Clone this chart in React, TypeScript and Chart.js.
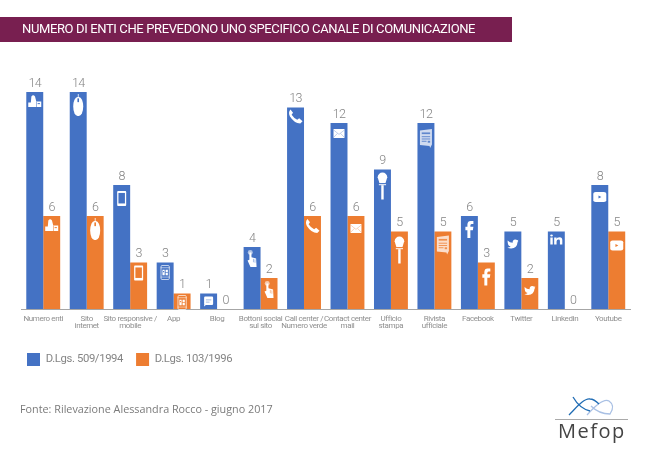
import React, { useEffect, useRef } from "react";
import { Chart, registerables } from "chart.js";

Chart.register(...registerables);

const titleText = "NUMERO DI ENTI CHE PREVEDONO UNO SPECIFICO CANALE DI COMUNICAZIONE";
const sourceText = "Fonte: Rilevazione Alessandra Rocco - giugno 2017";
const logoText = "Mefop";

const categories: (string | string[])[] = [
  "Numero enti",
  ["Sito", "internet"],
  ["Sito responsive /", "mobile"],
  "App",
  "Blog",
  ["Bottoni social", "sul sito"],
  ["Call center /", "Numero verde"],
  ["Contact center", "mail"],
  ["Ufficio", "stampa"],
  ["Rivista", "ufficiale"],
  "Facebook",
  "Twitter",
  "Linkedin",
  "Youtube",
];
const series1994 = [14, 14, 8, 3, 1, 4, 13, 12, 9, 12, 6, 5, 5, 8];
const series1996 = [6, 6, 3, 1, 0, 2, 6, 6, 5, 5, 3, 2, 0, 5];
const seriesNames = ["D.Lgs. 509/1994", "D.Lgs. 103/1996"];

const BLUE = "#4472C4";
const ORANGE = "#ED7D31";
const PLUM = "#781F50";
const GREY = "#858585";

type Ctx = CanvasRenderingContext2D;
type Icon = (c: Ctx, bg: string) => void; // drawn in a 0..1 box

const rr = (c: Ctx, x: number, y: number, w: number, h: number, r: number) => {
  c.beginPath();
  c.roundRect(x, y, w, h, r);
};

const building: Icon = (c, bg) => {
  c.beginPath();
  c.moveTo(0, 1); c.lineTo(0, 0.62); c.lineTo(0.2, 0.62); c.lineTo(0.24, 0.12);
  c.quadraticCurveTo(0.38, -0.08, 0.52, 0.12);
  c.lineTo(0.62, 0.55); c.lineTo(1, 0.55); c.lineTo(1, 1);
  c.closePath();
  c.fill();
  c.fillStyle = bg;
  c.fillRect(0.72, 0.68, 0.18, 0.08);
  c.fillRect(0.6, 0.55, 0.04, 0.45);
};
const mouse: Icon = (c, bg) => {
  rr(c, 0, 0.14, 1, 0.86, 0.5);
  c.fill();
  c.fillRect(0.46, 0, 0.08, 0.16);
  c.fillStyle = bg;
  c.fillRect(0.42, 0.2, 0.16, 0.17);
};
const device: Icon = (c, bg) => {
  rr(c, 0, 0, 1, 1, 0.08);
  c.fill();
  c.fillStyle = bg;
  c.fillRect(0.14, 0.13, 0.72, 0.7);
};
const app: Icon = (c, bg) => {
  c.lineWidth = 0.07;
  c.strokeStyle = "rgba(255,255,255,0.85)";
  rr(c, 0.04, 0, 0.92, 1, 0.1);
  c.stroke();
  c.fillStyle = "rgba(255,255,255,0.75)";
  c.fillRect(0, 0.14, 1, 0.05);
  c.fillRect(0, 0.8, 1, 0.05);
  c.fillStyle = "#fff";
  c.fillRect(0.2, 0.3, 0.25, 0.4);
  c.fillRect(0.55, 0.3, 0.25, 0.18);
  c.fillRect(0.55, 0.52, 0.25, 0.18);
  c.fillStyle = bg;
  c.fillRect(0.26, 0.4, 0.13, 0.08);
};
const blog: Icon = (c, bg) => {
  rr(c, 0, 0, 1, 0.85, 0.12);
  c.fill();
  c.beginPath();
  c.moveTo(0, 0.8); c.lineTo(0, 1); c.lineTo(0.25, 0.8); c.closePath();
  c.fill();
  c.fillStyle = bg;
  c.globalAlpha = 0.6;
  c.fillRect(0.2, 0.3, 0.6, 0.08);
  c.fillRect(0.2, 0.52, 0.4, 0.08);
};
const hand: Icon = (c, bg) => {
  c.fillStyle = "rgba(255,255,255,0.6)";
  c.beginPath();
  c.ellipse(0.3, 0.14, 0.28, 0.14, 0, 0, Math.PI * 2);
  c.fill();
  c.fillStyle = "#fff";
  c.beginPath();
  c.moveTo(0.2, 0.14); c.lineTo(0.42, 0.14); c.lineTo(0.44, 0.42); c.lineTo(0.95, 0.5);
  c.lineTo(1, 1); c.lineTo(0.32, 1); c.lineTo(0, 0.62); c.lineTo(0.2, 0.58);
  c.closePath();
  c.fill();
  c.fillStyle = bg;
  c.fillRect(0.6, 0.52, 0.05, 0.2);
  c.fillRect(0.8, 0.55, 0.05, 0.2);
};
const phone: Icon = (c) => {
  c.beginPath();
  c.moveTo(0.14, 0); c.lineTo(0.32, 0.24); c.lineTo(0.22, 0.38);
  c.quadraticCurveTo(0.38, 0.62, 0.62, 0.74);
  c.lineTo(0.76, 0.62); c.lineTo(1, 0.84); c.lineTo(0.84, 1);
  c.quadraticCurveTo(0.4, 0.98, 0.1, 0.5);
  c.quadraticCurveTo(-0.05, 0.2, 0.14, 0);
  c.closePath();
  c.fill();
};
const envelope: Icon = (c, bg) => {
  c.fillRect(0, 0, 1, 1);
  c.strokeStyle = bg;
  c.globalAlpha = 0.55;
  c.lineWidth = 0.06;
  c.beginPath();
  c.moveTo(0, 0.1); c.lineTo(0.5, 0.6); c.lineTo(1, 0.1);
  c.moveTo(0, 0.95); c.lineTo(0.35, 0.5);
  c.moveTo(1, 0.95); c.lineTo(0.65, 0.5);
  c.stroke();
};
const mic: Icon = (c, bg) => {
  c.beginPath();
  c.ellipse(0.5, 0.18, 0.48, 0.18, 0, Math.PI, 0);
  c.lineTo(0.8, 0.4);
  c.lineTo(0.2, 0.4);
  c.closePath();
  c.fill();
  c.fillRect(0.14, 0.43, 0.72, 0.04);
  c.fillRect(0.38, 0.47, 0.24, 0.53);
  c.fillStyle = bg;
  c.fillRect(0.16, 0.4, 0.68, 0.03);
};
const paper: Icon = (c, bg) => {
  c.fillStyle = "rgba(255,255,255,0.75)";
  c.beginPath();
  c.moveTo(0, 0.08); c.lineTo(1, 0); c.lineTo(1, 0.82); c.lineTo(0.85, 1);
  c.lineTo(0.8, 0.9); c.lineTo(0, 0.84);
  c.closePath();
  c.fill();
  c.fillStyle = bg;
  c.globalAlpha = 0.8;
  c.fillRect(0.15, 0.18, 0.7, 0.09);
  c.fillRect(0.15, 0.38, 0.7, 0.05);
  c.fillRect(0.15, 0.5, 0.7, 0.05);
  c.fillRect(0.15, 0.62, 0.4, 0.05);
  c.fillRect(0.65, 0.62, 0.2, 0.1);
};
const facebook: Icon = (c) => {
  c.beginPath();
  c.moveTo(0.25, 1); c.lineTo(0.25, 0.55); c.lineTo(0, 0.55); c.lineTo(0, 0.34);
  c.lineTo(0.25, 0.34); c.lineTo(0.25, 0.2);
  c.quadraticCurveTo(0.28, 0, 0.65, 0);
  c.lineTo(1, 0); c.lineTo(1, 0.18); c.lineTo(0.78, 0.18);
  c.quadraticCurveTo(0.62, 0.18, 0.62, 0.27);
  c.lineTo(0.62, 0.34); c.lineTo(1, 0.34); c.lineTo(0.93, 0.55); c.lineTo(0.62, 0.55);
  c.lineTo(0.62, 1);
  c.closePath();
  c.fill();
};
const twitter: Icon = (c) => {
  c.beginPath();
  c.moveTo(0.02, 0.1);
  c.quadraticCurveTo(0.22, 0.36, 0.48, 0.36);
  c.quadraticCurveTo(0.46, 0.04, 0.72, 0);
  c.quadraticCurveTo(0.84, 0, 0.9, 0.08);
  c.lineTo(1, 0.04); c.lineTo(0.93, 0.22); c.lineTo(1, 0.18); c.lineTo(0.92, 0.32);
  c.quadraticCurveTo(0.9, 0.9, 0.34, 1);
  c.quadraticCurveTo(0.14, 1, 0, 0.88);
  c.quadraticCurveTo(0.2, 0.9, 0.3, 0.78);
  c.quadraticCurveTo(0.1, 0.7, 0.07, 0.55);
  c.quadraticCurveTo(0.02, 0.3, 0.02, 0.1);
  c.closePath();
  c.fill();
};
const linkedin: Icon = (c) => {
  c.fillRect(0, 0.3, 0.2, 0.7);
  c.beginPath();
  c.ellipse(0.1, 0.1, 0.11, 0.11, 0, 0, Math.PI * 2);
  c.fill();
  c.fillRect(0.32, 0.3, 0.2, 0.7);
  c.beginPath();
  c.moveTo(0.45, 0.5);
  c.quadraticCurveTo(0.55, 0.28, 0.78, 0.28);
  c.quadraticCurveTo(1, 0.3, 1, 0.58);
  c.lineTo(1, 1); c.lineTo(0.8, 1); c.lineTo(0.8, 0.62);
  c.quadraticCurveTo(0.78, 0.48, 0.68, 0.5);
  c.quadraticCurveTo(0.52, 0.52, 0.52, 0.7);
  c.closePath();
  c.fill();
};
const youtube: Icon = (c, bg) => {
  rr(c, 0, 0, 1, 1, 0.18);
  c.fill();
  c.fillStyle = bg;
  c.beginPath();
  c.moveTo(0.4, 0.34); c.lineTo(0.62, 0.5); c.lineTo(0.4, 0.66);
  c.closePath();
  c.fill();
};

// icon, width, height, offset from the bar top for each of the two series
const iconSpecs: [Icon, number, number, number, number][] = [
  [building, 13, 12, 3, 3],
  [mouse, 10, 22, 2, 2],
  [device, 9, 15, 6, 3],
  [app, 9, 14, 3, 2],
  [blog, 9, 10, 3, 0],
  [hand, 9, 17, 3, 3],
  [phone, 14, 14, 2, 3],
  [envelope, 11, 9, 6, 8],
  [mic, 10, 27, 3, 5],
  [paper, 12, 19, 6, 4],
  [facebook, 8, 17, 5, 6],
  [twitter, 11, 9, 8, 8],
  [linkedin, 12, 10, 3, 3],
  [youtube, 13, 10, 7, 9],
];

const decor = {
  id: "decor",
  beforeUpdate(chart: any) {
    (chart.ctx as any).letterSpacing = "-0.37px";
  },
  beforeDraw(chart: any) {
    const c: Ctx = chart.ctx;
    (c as any).letterSpacing = "-0.37px";
    c.save();
    c.fillStyle = PLUM;
    c.fillRect(0, 17, 512, 25);
    c.restore();
    if (chart.titleBlock) chart.titleBlock.left = 22;
  },
  afterDatasetsDraw(chart: any) {
    const c: Ctx = chart.ctx;
    c.save();
    chart.data.datasets.forEach((ds: any, di: number) => {
      chart.getDatasetMeta(di).data.forEach((bar: any, i: number) => {
        // value label
        c.fillStyle = GREY;
        c.font = "300 12.5px Roboto";
        (c as any).letterSpacing = "-0.6px";
        c.textAlign = "center";
        c.textBaseline = "alphabetic";
        c.fillText(String(ds.data[i]), bar.x, bar.y - 5.5);
        // icon
        if (ds.data[i] > 0) {
          const [icon, w, h, off0, off1] = iconSpecs[i];
          c.save();
          c.translate(bar.x - w / 2, bar.y + (di === 0 ? off0 : off1));
          c.scale(w, h);
          c.fillStyle = "#fff";
          icon(c, ds.backgroundColor);
          c.restore();
        }
      });
    });
    c.restore();
  },
  afterDraw(chart: any) {
    const c: Ctx = chart.ctx;
    c.save();
    (c as any).letterSpacing = "0px";
    c.fillStyle = "#7a7a7a";
    c.font = "10.8px 'Open Sans'";
    c.textAlign = "left";
    c.textBaseline = "alphabetic";
    c.fillText(sourceText, 20, 413);
    // logo
    c.strokeStyle = "#a9c0e4";
    c.lineWidth = 1.3;
    c.beginPath();
    c.moveTo(587, 415);
    c.bezierCurveTo(595, 406, 604, 398, 609, 401);
    c.bezierCurveTo(615, 405, 612, 411, 610, 414);
    c.bezierCurveTo(603, 414, 596, 411, 591, 406);
    c.stroke();
    c.strokeStyle = "#1f6cb4";
    c.beginPath();
    c.moveTo(569, 415);
    c.bezierCurveTo(576, 408, 584, 398, 590, 399);
    c.bezierCurveTo(594, 399, 597, 402, 599, 404);
    c.moveTo(573, 397);
    c.bezierCurveTo(577, 404, 582, 409, 590, 411);
    c.stroke();
    c.fillStyle = "#aaaaaa";
    c.fillRect(555, 419, 73, 1);
    c.fillStyle = "#444444";
    c.font = "20px 'Open Sans'";
    (c as any).letterSpacing = "1.5px";
    c.fillText(logoText, 558, 438);
    c.restore();
  },
};

export default function App() {
  const ref = useRef<HTMLCanvasElement>(null);
  useEffect(() => {
    const chart = new Chart(ref.current!, {
      type: "bar",
      data: {
        labels: categories as any,
        datasets: [
          { label: seriesNames[0], data: series1994, backgroundColor: BLUE, borderWidth: 0 },
          { label: seriesNames[1], data: series1996, backgroundColor: ORANGE, borderWidth: 0 },
        ],
      },
      options: {
        responsive: false,
        animation: false,
        layout: { padding: { left: 14, right: 20, top: 0, bottom: 80 } },
        datasets: { bar: { categoryPercentage: 0.78, barPercentage: 1 } },
        scales: {
          x: {
            grid: { display: false, drawTicks: false },
            border: { color: "#a6a6a6", width: 1 },
            ticks: {
              color: "#8f8f8f",
              font: { family: "Roboto", size: 8, lineHeight: 0.95 },
              maxRotation: 0,
              minRotation: 0,
              autoSkip: false,
              padding: 6,
            },
            afterFit: (s: any) => { s.height = 31; },
          },
          y: {
            min: 0,
            max: 14,
            grid: { display: false },
            border: { display: false },
            ticks: { display: false },
            afterFit: (s: any) => { s.width = 7.5; },
          },
        },
        plugins: {
          tooltip: { enabled: false },
          title: {
            display: true,
            text: titleText,
            align: "start",
            color: "#ffffff",
            font: { family: "Roboto", size: 13, weight: "normal", lineHeight: 1.2 },
            padding: { top: 22, bottom: 54.4 },
          },
          legend: {
            display: true,
            position: "bottom",
            align: "start",
            labels: {
              boxWidth: 13,
              boxHeight: 13,
              padding: 13,
              color: GREY,
              font: { family: "Roboto", size: 11.3 },
            },
          },
        },
      },
      plugins: [decor],
    } as any);
    return () => chart.destroy();
  }, []);
  return (
    <canvas
      ref={ref}
      width={650}
      height={456}
      style={{ position: "fixed", left: 0, top: 0, display: "block", background: "#fff" }}
    />
  );
}
